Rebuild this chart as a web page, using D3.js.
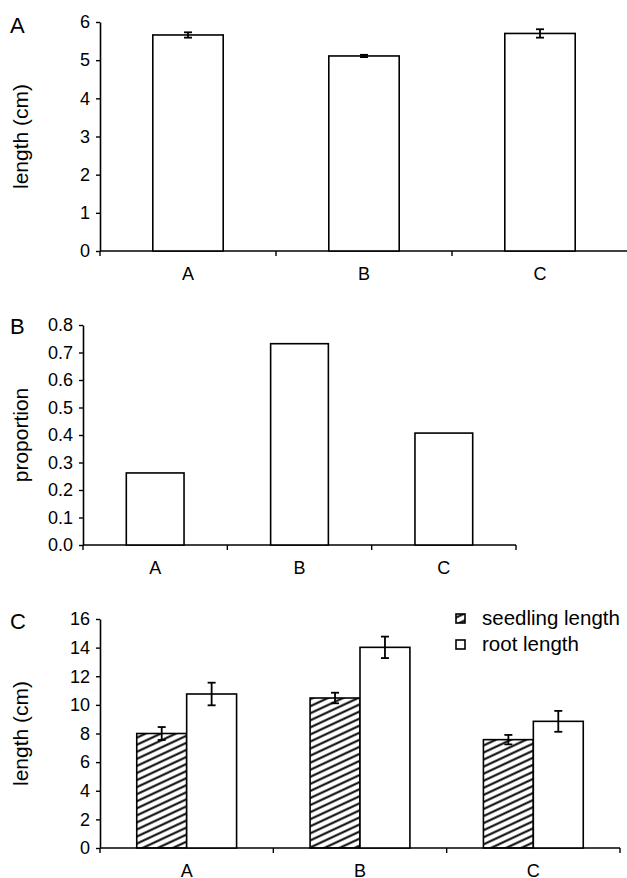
<!DOCTYPE html>
<html>
<head>
<meta charset="utf-8">
<title>seedling lengths</title>
<style>
  body { margin: 0; background: #fff; }
  svg text { font-family: "Liberation Sans", Arial, sans-serif; fill: #000; }
</style>
</head>
<body>
<svg width="627" height="878"></svg>
<script src="https://cdn.jsdelivr.net/npm/d3@7/dist/d3.min.js"></script>
<script>
// data
var categories = ['A', 'B', 'C']

// panel A: length (cm)
var lengthMean = [5.66, 5.11, 5.70]
var lengthErr = [0.07, 0.03, 0.11]
var lengthTicks = [0, 1, 2, 3, 4, 5, 6]

// panel B: proportion
var proportion = [0.262, 0.732, 0.407]
var proportionTicks = [0, 0.1, 0.2, 0.3, 0.4, 0.5, 0.6, 0.7, 0.8]

// panel C: seedling and root length
var seriesNames = ['seedling length', 'root length']
var seedlingLen = [8.0, 10.48, 7.57]
var seedlingErr = [0.45, 0.37, 0.33]
var rootLen = [10.76, 14.02, 8.85]
var rootErr = [0.79, 0.75, 0.73]
var pairTicks = [0, 2, 4, 6, 8, 10, 12, 14, 16]

var svg = d3.select('svg')

// diagonal hatch for seedling bars
svg.append('defs').append('pattern')
    .attr('id', 'hatch')
    .attr('patternUnits', 'userSpaceOnUse')
    .attr('width', 8)
    .attr('height', 6.4)
    .attr('patternTransform', 'rotate(-25)')
  .append('line')
    .attr('x1', 0).attr('y1', 3.2)
    .attr('x2', 8).attr('y2', 3.2)
    .attr('stroke', '#000')
    .attr('stroke-width', 2)

// sets up axes for one panel, returns the scales
function panel(p) {
    var g = svg.append('g')

    var x = d3.scaleBand().domain(categories).range([p.x0, p.x1])
    var y = d3.scaleLinear().domain([0, p.max]).range([p.y0, p.yTop])

    var yAxis = g.append('g')
        .attr('transform', 'translate(' + p.x0 + ',0)')
        .call(d3.axisLeft(y)
            .tickValues(p.ticks)
            .tickSize(4)
            .tickSizeOuter(0)
            .tickPadding(6)
            .tickFormat(p.format))
    yAxis.select('.domain').attr('stroke-width', 1.6)
    yAxis.selectAll('.tick line').attr('stroke-width', 1.4)
    yAxis.selectAll('text').style('font-size', '18px')

    // x axis line plus ticks on category boundaries
    g.append('line')
        .attr('x1', p.x0).attr('x2', p.x1)
        .attr('y1', p.y0).attr('y2', p.y0)
        .attr('stroke', '#000').attr('stroke-width', 1.6)

    var bounds = categories.map(function(d){ return x(d) }).concat([p.x1])
    g.selectAll('.xtick').data(bounds).enter().append('line')
        .attr('x1', function(d){ return d }).attr('x2', function(d){ return d })
        .attr('y1', p.y0).attr('y2', p.y0 + 5)
        .attr('stroke', '#000').attr('stroke-width', 1.4)

    g.selectAll('.xlabel').data(categories).enter().append('text')
        .attr('x', function(d){ return x(d) + x.bandwidth() / 2 })
        .attr('y', p.y0 + 29)
        .attr('text-anchor', 'middle')
        .style('font-size', '18px')
        .text(function(d){ return d })

    g.append('text')
        .attr('x', 10).attr('y', p.letterY)
        .style('font-size', '22px')
        .text(p.letter)

    g.append('text')
        .attr('transform', 'translate(21,' + (p.y0 + p.yTop) / 2 + ') rotate(-90)')
        .attr('text-anchor', 'middle')
        .attr('dy', '0.35em')
        .style('font-size', '21px')
        .text(p.label)

    return { g: g, x: x, y: y }
}

function errorBars(g, cx, y, means, errs, cap) {
    var eb = g.selectAll(null).data(means).enter().append('g')
        .attr('stroke', '#000').attr('stroke-width', 1.8)
    eb.append('line')
        .attr('x1', function(d, i){ return cx(i) }).attr('x2', function(d, i){ return cx(i) })
        .attr('y1', function(d, i){ return y(d - errs[i]) })
        .attr('y2', function(d, i){ return y(d + errs[i]) })
    eb.append('line')
        .attr('x1', function(d, i){ return cx(i) - cap }).attr('x2', function(d, i){ return cx(i) + cap })
        .attr('y1', function(d, i){ return y(d + errs[i]) })
        .attr('y2', function(d, i){ return y(d + errs[i]) })
    eb.append('line')
        .attr('x1', function(d, i){ return cx(i) - cap }).attr('x2', function(d, i){ return cx(i) + cap })
        .attr('y1', function(d, i){ return y(d - errs[i]) })
        .attr('y2', function(d, i){ return y(d - errs[i]) })
}

// ---- panel A
var a = panel({ x0: 100, x1: 628, y0: 251, yTop: 22, max: 6, ticks: lengthTicks,
    format: d3.format('d'), letter: 'A', letterY: 33, label: 'length (cm)' })
var aStep = a.x.step()
a.g.selectAll('.bar').data(lengthMean).enter().append('rect')
    .attr('x', function(d, i){ return a.x(categories[i]) + aStep * 0.3 })
    .attr('width', aStep * 0.4)
    .attr('y', function(d){ return a.y(d) })
    .attr('height', function(d){ return a.y(0) - a.y(d) })
    .attr('fill', '#fff').attr('stroke', '#000').attr('stroke-width', 1.6)
errorBars(a.g, function(i){ return a.x(categories[i]) + aStep / 2 }, a.y, lengthMean, lengthErr, 4)

// ---- panel B
var b = panel({ x0: 83, x1: 516, y0: 545, yTop: 325, max: 0.8, ticks: proportionTicks,
    format: d3.format('.1f'), letter: 'B', letterY: 334, label: 'proportion' })
var bStep = b.x.step()
b.g.selectAll('.bar').data(proportion).enter().append('rect')
    .attr('x', function(d, i){ return b.x(categories[i]) + bStep * 0.3 })
    .attr('width', bStep * 0.4)
    .attr('y', function(d){ return b.y(d) })
    .attr('height', function(d){ return b.y(0) - b.y(d) })
    .attr('fill', '#fff').attr('stroke', '#000').attr('stroke-width', 1.6)

// ---- panel C
var c = panel({ x0: 100, x1: 620, y0: 848, yTop: 619, max: 16, ticks: pairTicks,
    format: d3.format('d'), letter: 'C', letterY: 629, label: 'length (cm)' })
var cStep = c.x.step()
var inner = d3.scaleBand().domain(seriesNames).range([cStep * 0.212, cStep * 0.788])
var pairs = [
    { name: seriesNames[0], values: seedlingLen, errs: seedlingErr, fill: 'url(#hatch)' },
    { name: seriesNames[1], values: rootLen, errs: rootErr, fill: '#fff' }
]
pairs.forEach(function(s) {
    c.g.selectAll(null).data(s.values).enter().append('rect')
        .attr('x', function(d, i){ return c.x(categories[i]) + inner(s.name) })
        .attr('width', inner.bandwidth())
        .attr('y', function(d){ return c.y(d) })
        .attr('height', function(d){ return c.y(0) - c.y(d) })
        .attr('fill', s.fill).attr('stroke', '#000').attr('stroke-width', 1.6)
})
pairs.forEach(function(s) {
    errorBars(c.g, function(i){ return c.x(categories[i]) + inner(s.name) + inner.bandwidth() / 2 },
        c.y, s.values, s.errs, 4)
})

// legend
var legend = c.g.append('g').attr('transform', 'translate(456,614)')
var item = legend.selectAll('g').data(pairs).enter().append('g')
    .attr('transform', function(d, i){ return 'translate(0,' + i * 26 + ')' })
item.append('rect')
    .attr('width', 9).attr('height', 9)
    .attr('fill', function(d){ return d.fill })
    .attr('stroke', '#000').attr('stroke-width', 1.6)
item.append('text')
    .attr('x', 26).attr('y', 11)
    .style('font-size', '20.5px')
    .text(function(d){ return d.name })
</script>
</body>
</html>
